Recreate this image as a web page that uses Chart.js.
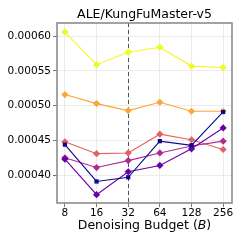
<!DOCTYPE html>
<html>
<head>
<meta charset="utf-8">
<script src="https://cdn.jsdelivr.net/npm/chart.js@4/dist/chart.umd.min.js"></script>
<style>
    html, body { margin: 0; padding: 0; background: #fff; }
    #wrap { width: 244px; height: 244px; }
</style>
</head>
<body>
<div id="wrap"><canvas id="chart" width="244" height="244"></canvas></div>
<script>
'use strict';

// denoising budgets (x) and ticks
const budgets = [8, 16, 32, 64, 128, 256];
const yTicks = [0.00040, 0.00045, 0.00050, 0.00055, 0.00060];
const markedBudget = 32;
const titleText = 'ALE/KungFuMaster-v5';

// one series per run
const seriesNavy    = [0.000444, 0.000391, 0.000397, 0.000449, 0.000443, 0.000491];
const seriesPurple  = [0.000423, 0.000372, 0.000405, 0.000414, 0.000438, 0.000468];
const seriesMagenta = [0.000425, 0.000411, 0.000421, 0.000432, 0.000442, 0.000449];
const seriesSalmon  = [0.000448, 0.000431, 0.000432, 0.000459, 0.000451, 0.000437];
const seriesOrange  = [0.000516, 0.000503, 0.000493, 0.000505, 0.000492, 0.000492];
const seriesYellow  = [0.000606, 0.000559, 0.000577, 0.000584, 0.000557, 0.000555];

const seriesList = [seriesNavy, seriesPurple, seriesMagenta, seriesSalmon, seriesOrange, seriesYellow];
const seriesColors = ['#0d0887', '#6a00a8', '#b12a90', '#e16462', '#fca636', '#f0f921'];
const seriesMarkers = ['rect', 'rectRot', 'rectRot', 'rectRot', 'rectRot', 'rectRot'];

function toPoints(values) {
    return values.map((v, i) => ({ x: Math.log2(budgets[i]), y: v }));
}

let datasets = seriesList.map((values, i) => ({
    data: toPoints(values),
    borderColor: seriesColors[i],
    backgroundColor: seriesColors[i],
    borderWidth: 1.1,
    pointStyle: seriesMarkers[i],
    pointRadius: seriesMarkers[i] === 'rect' ? 3 : 3.6,
    pointBorderWidth: 0,
    tension: 0
}));

const FONT = 'DejaVu Sans';

// frame, reference line, title and x label with italic B
const decorations = {
    id: 'decorations',
    beforeDatasetsDraw(chart) {
        const { ctx, chartArea: a, scales } = chart;
        const x = scales.x.getPixelForValue(Math.log2(markedBudget));
        ctx.save();
        ctx.strokeStyle = '#555';
        ctx.lineWidth = 1;
        ctx.setLineDash([4, 3]);
        ctx.beginPath();
        ctx.moveTo(Math.round(x) + 0.5, a.top);
        ctx.lineTo(Math.round(x) + 0.5, a.bottom);
        ctx.stroke();
        ctx.restore();
    },
    afterDraw(chart) {
        const { ctx, chartArea: a } = chart;
        const cx = (a.left + a.right) / 2;
        ctx.save();
        ctx.strokeStyle = '#8c8c8c';
        ctx.lineWidth = 1.6;
        ctx.strokeRect(a.left, a.top, a.right - a.left, a.bottom - a.top);

        ctx.fillStyle = '#000';
        ctx.textBaseline = 'middle';
        ctx.textAlign = 'center';
        ctx.font = `12.5px "${FONT}"`;
        ctx.fillText(titleText, cx, 15);

        // x axis label
        ctx.textAlign = 'left';
        const normal = `12.5px "${FONT}"`;
        const italic = `italic 12.5px "${FONT}"`;
        const parts = [['Denoising Budget (', normal], ['B', italic], [')', normal]];
        let total = 0;
        for (const [t, f] of parts) { ctx.font = f; total += ctx.measureText(t).width; }
        let px = cx - total / 2;
        for (const [t, f] of parts) {
            ctx.font = f;
            ctx.fillText(t, px, 226);
            px += ctx.measureText(t).width;
        }
        ctx.restore();
    }
};

let ctx = document.getElementById('chart').getContext('2d');
let chart = new Chart(ctx, {
    type: 'line',
    data: { datasets: datasets },
    plugins: [decorations],
    options: {
        responsive: false,
        animation: false,
        layout: { padding: { left: 0, right: 12, top: 23, bottom: 19 } },
        plugins: {
            legend: { display: false },
            tooltip: { enabled: false },
            title: { display: false }
        },
        scales: {
            x: {
                type: 'linear',
                min: 2.75,
                max: 8.28,
                afterBuildTicks(scale) {
                    scale.ticks = budgets.map(b => ({ value: Math.log2(b) }));
                },
                afterFit(scale) { scale.height = 22; },
                ticks: {
                    color: '#000',
                    font: { family: FONT, size: 10.5 },
                    padding: 0,
                    maxRotation: 0,
                    autoSkip: false,
                    callback: v => String(Math.round(Math.pow(2, v)))
                },
                grid: { color: '#e6e6e6', lineWidth: 0.8, tickLength: 4, tickColor: '#555' },
                border: { display: false }
            },
            y: {
                min: 0.000360,
                max: 0.000619,
                afterBuildTicks(scale) {
                    scale.ticks = yTicks.map(v => ({ value: v }));
                },
                afterFit(scale) { scale.width = 57; },
                ticks: {
                    color: '#000',
                    font: { family: FONT, size: 10.5 },
                    padding: 2,
                    callback: v => v.toFixed(5)
                },
                grid: { color: '#e6e6e6', lineWidth: 0.8, tickLength: 4, tickColor: '#555' },
                border: { display: false }
            }
        }
    }
});
</script>
</body>
</html>
